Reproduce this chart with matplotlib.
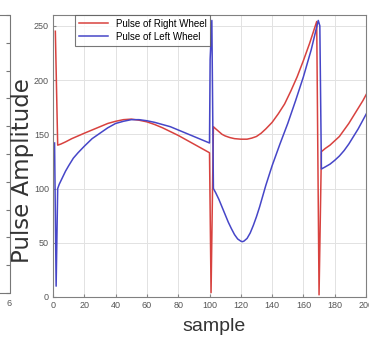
import matplotlib.pyplot as plt

# samples
right_x = [1.5, 3, 5, 8, 12, 16, 20, 25, 30, 35, 40, 45, 50, 55, 60, 65, 70, 75,
           80, 85, 90, 95, 100, 101, 102.5, 104, 106, 108, 110, 113, 116, 120,
           124, 127, 130, 133, 136, 140, 144, 148, 152, 156, 160, 164, 168.5,
           170, 171.5, 174, 177, 180, 183, 186, 189, 192, 195, 198, 201]
right_y = [245, 140, 141, 143, 146, 148.5, 151, 154, 157, 160, 162, 163.5, 164,
           163, 161.5, 159, 156, 152.5, 149, 145, 141, 137, 133, 4, 157, 155,
           152.5, 150, 148.5, 147, 146, 145.5, 145.5, 146.5, 148, 151, 155, 161,
           169, 178, 190, 203, 218, 234, 254, 2, 134, 137, 140, 144, 148, 154,
           160, 167, 174, 181, 189]

left_x = [1, 2, 3, 4, 6, 8, 10, 13, 16, 20, 25, 30, 35, 40, 45, 50, 55, 60, 65,
          70, 75, 80, 85, 90, 95, 100, 100.4, 101.5, 102.5, 104, 106, 108, 110,
          112, 114, 116, 118, 120, 121, 122, 124, 126, 128, 130, 132, 134, 136,
          138, 140, 145, 150, 155, 160, 165, 169.5, 170.5, 171.5, 174, 177, 180,
          183, 186, 189, 192, 195, 198, 201]
left_y = [142, 10, 100, 104, 110, 116, 121, 128, 133, 139, 146, 151, 156, 160,
          162, 163.5, 163.5, 162.5, 161, 159, 157, 154, 151, 148, 145, 142, 219,
          255, 100, 96, 90, 83, 76, 69, 63, 57.5, 53.5, 51.5, 51, 51.5, 54, 59,
          66, 74, 83, 93, 103, 112, 121, 141, 160, 181, 203, 228, 255, 250, 118,
          120, 122.5, 126, 130, 135, 141, 148, 155, 163, 171]


def main():
    fig = plt.figure(figsize=(3.69, 3.38), dpi=100)
    plt.rcParams['font.family'] = ['Liberation Sans', 'DejaVu Sans']

    # piece of the neighbouring plot on the left
    side = fig.add_axes([-0.5, 1 - 293 / 338, 0.5 + 9.5 / 369, 278 / 338])
    side.set_xlim(0, 6)
    side.set_ylim(0, 10)
    side.set_yticks(range(11))
    side.yaxis.tick_right()
    side.tick_params(axis='y', direction='in', length=3, color='#777777', labelright=False)
    side.set_xticks([6])
    side.set_xticklabels(['6'])
    side.tick_params(axis='x', length=0, labelsize=6.5, labelcolor='#555555', pad=4)
    for sp in side.spines.values():
        sp.set_color('#777777')
        sp.set_linewidth(0.8)

    ax = fig.add_axes([53 / 369, 1 - 297 / 338, 313 / 369, 282 / 338])
    ax.plot(right_x, right_y, color='#d8423f', lw=1.1, label='Pulse of Right Wheel')
    ax.plot(left_x, left_y, color='#4646c8', lw=1.1, label='Pulse of Left Wheel')
    ax.set_xlim(0, 200)
    ax.set_ylim(0, 260)
    ax.set_xticks(range(0, 201, 20))
    ax.set_yticks(range(0, 251, 50))
    ax.grid(True, color='#e2e2e2', lw=0.7)
    ax.tick_params(direction='in', length=2, color='#888888', labelsize=6.5,
                   labelcolor='#555555', pad=3)
    for sp in ax.spines.values():
        sp.set_color('#808080')
        sp.set_linewidth(0.8)
    ax.set_xlabel('sample', fontsize=14, color='#333333')
    ax.xaxis.set_label_coords(161 / 313, -0.075)
    ax.set_ylabel('Pulse Amplitude', fontsize=16.5, color='#333333', family='DejaVu Sans')
    ax.yaxis.set_label_coords(-0.062, 0.447)

    leg = ax.legend(loc='upper left', bbox_to_anchor=(22 / 313, 1.0), fontsize=7,
                    frameon=True, fancybox=False, borderpad=0.4, handlelength=3,
                    labelspacing=0.3, borderaxespad=0)
    leg.get_frame().set_edgecolor('#555555')
    leg.get_frame().set_linewidth(0.8)

    plt.savefig('out.png', dpi=100)


if __name__ == "__main__":
    main()
